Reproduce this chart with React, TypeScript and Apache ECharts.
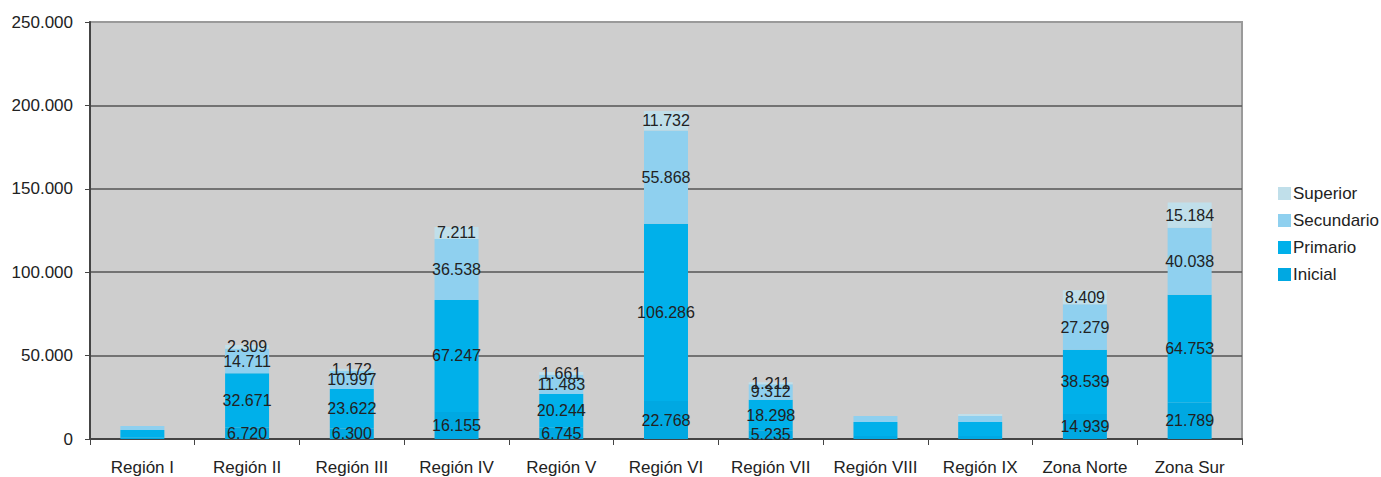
import React, { useEffect, useRef } from "react";
import * as echarts from "echarts";

const categories = ["Región I", "Región II", "Región III", "Región IV", "Región V", "Región VI", "Región VII", "Región VIII", "Región IX", "Zona Norte", "Zona Sur"];
const inicial = [800, 6720, 6300, 16155, 6745, 22768, 5235, 1800, 1800, 14939, 21789];
const primario = [4600, 32671, 23622, 67247, 20244, 106286, 18298, 8400, 8400, 38539, 64753];
const secundario = [2400, 14711, 10997, 36538, 11483, 55868, 9312, 3600, 3600, 27279, 40038];
const superior = [0, 2309, 1172, 7211, 1661, 11732, 1211, 0, 1200, 8409, 15184];
const unlabeled = ["Región I", "Región VIII", "Región IX"];
const yTicks = [0, 50000, 100000, 150000, 200000, 250000];

const fmt = (v: number) => String(Math.round(v)).replace(/\B(?=(\d{3})+(?!\d))/g, ".");

export default function App() {
  const ref = useRef<HTMLDivElement>(null);
  useEffect(() => {
    if (!ref.current) return;
    const chart = echarts.init(ref.current, null, { renderer: "svg" });
    const font = "'Liberation Sans', Arial, sans-serif";
    const mk = (name: string, data: number[], color: string) => ({
      name,
      type: "bar",
      stack: "total",
      barWidth: "42%",
      itemStyle: { color },
      data: data.map((v, i) => ({
        value: v,
        label: { show: !unlabeled.includes(categories[i]) && v > 0 },
      })),
      label: {
        position: "inside",
        color: "#222",
        fontSize: 16,
        fontFamily: font,
        formatter: (p: any) => fmt(p.value),
      },
    });
    chart.setOption({
      animation: false,
      textStyle: { fontFamily: font },
      grid: {
        left: 90,
        right: 139,
        top: 22,
        bottom: 38,
        show: true,
        backgroundColor: "#cecece",
        borderColor: "#9a9a9a",
        borderWidth: 2,
      },
      legend: {
        orient: "vertical",
        left: 1273,
        top: 180,
        itemWidth: 13,
        itemHeight: 13,
        itemGap: 10,
        icon: "rect",
        data: ["Superior", "Secundario", "Primario", "Inicial"],
        textStyle: { fontSize: 17, color: "#222", padding: [0, 0, 0, -3], fontFamily: font },
      },
      xAxis: {
        type: "category",
        data: categories,
        axisLine: { lineStyle: { color: "#444", width: 2 } },
        axisTick: { show: true, inside: false, length: 6, lineStyle: { color: "#444" } },
        axisLabel: { fontSize: 17, color: "#222", margin: 20, fontFamily: font, interval: 0 },
      },
      yAxis: {
        type: "value",
        min: yTicks[0],
        max: yTicks[yTicks.length - 1],
        interval: 50000,
        axisLine: { show: true, lineStyle: { color: "#444", width: 2 } },
        axisTick: { show: true, length: 5, lineStyle: { color: "#444" } },
        axisLabel: { fontSize: 17, color: "#222", margin: 17, fontFamily: font, formatter: (v: number) => fmt(v) },
        splitLine: {
          show: true,
          lineStyle: { color: ["#555", "#555", "#555", "#555", "#555", "#9a9a9a"], width: 1.5 },
        },
      },
      series: [
        mk("Inicial", inicial, "#00a8e2"),
        mk("Primario", primario, "#00b0ea"),
        mk("Secundario", secundario, "#8fd0ef"),
        mk("Superior", superior, "#c0dfea"),
      ],
    });
    return () => chart.dispose();
  }, []);
  return <div ref={ref} style={{ position: "absolute", left: 0, top: 0, width: 1381, height: 477 }} />;
}
